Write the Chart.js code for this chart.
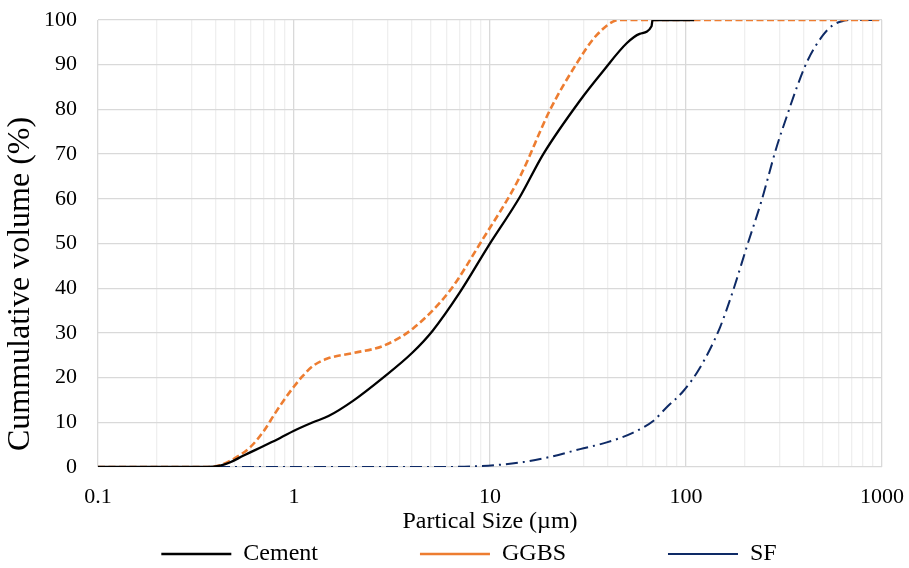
<!DOCTYPE html>
<html>
<head>
<meta charset="utf-8">
<script src="https://cdn.jsdelivr.net/npm/chart.js@4.4.1/dist/chart.umd.min.js"></script>
<style>
  html, body { margin: 0; padding: 0; background: #fff; }
  #wrap { width: 909px; height: 568px; }
</style>
</head>
<body>
<div id="wrap"><canvas id="psd"></canvas></div>
<script>
// particle size (um) / cumulative volume (%)
const cementSize = [0.1, 0.36, 0.42, 0.47, 0.55, 0.7, 0.85, 1.0, 1.25, 1.5, 2.0, 2.85, 4.0, 5.1, 7.0, 9.77, 14.2, 18.7, 28.8, 37.8, 49.8, 58, 66.7, 67.5, 110];
const cementVol  = [0, 0, 0.3, 1, 2.5, 4.7, 6.5, 8.1, 10, 11.4, 14.8, 20, 25.5, 30.5, 39, 49.3, 60.4, 70, 82, 88.6, 94.8, 96.9, 98.6, 100, 100];

const ggbsSize = [0.1, 0.36, 0.42, 0.5, 0.6, 0.7, 0.8, 0.9, 1.0, 1.1, 1.25, 1.47, 2.0, 2.85, 4.05, 6.25, 8.9, 14.2, 20.2, 27.7, 35, 45.7, 1000];
const ggbsVol  = [0, 0, 0.4, 2, 4.5, 8, 12, 15.3, 18, 20.2, 22.6, 24.2, 25.5, 27.1, 31, 39.5, 50, 64.9, 79.8, 90.3, 96.6, 100, 100];

const sfSize = [0.1, 5, 8.9, 14.8, 20, 28.8, 39.4, 53.8, 68, 79.5, 97, 117.8, 149, 174, 204, 243, 290, 326, 366, 418, 500, 564, 635, 700, 1000];
const sfVol  = [0, 0, 0.2, 1.1, 2.2, 4, 5.5, 7.7, 10.3, 13.3, 17, 22.2, 31.2, 39.5, 49.2, 59.6, 71.6, 78.3, 84.7, 91, 96.6, 98.9, 99.8, 100, 100];

const xDecades = [0.1, 1, 10, 100, 1000];
const yTicks = [0, 10, 20, 30, 40, 50, 60, 70, 80, 90, 100];

// gridlines at 1..9 of every decade
const xGrid = [];
xDecades.slice(0, -1).forEach(d => {
  for (let m = 1; m <= 9; m++) xGrid.push(+(d * m).toPrecision(3));
});
xGrid.push(1000);

const isDecade = v => xDecades.some(d => Math.abs(d - v) < 1e-9);
const pts = (xs, ys) => xs.map((x, i) => ({ x: x, y: ys[i] }));
const serif = "'Liberation Serif', 'Times New Roman', serif";

// excel leaves a wide gap between legend entries, and sits it a bit right of centre
const legendGap = '\u2003\u2003\u2003\u2003';
const legendNudge = {
  id: 'legendNudge',
  afterLayout(chart) { chart.legend.left += 56; }
};

new Chart(document.getElementById('psd'), {
  type: 'scatter',
  data: {
    datasets: [
      {
        label: 'Cement',
        data: pts(cementSize, cementVol),
        showLine: true,
        borderColor: '#000000',
        backgroundColor: '#000000',
        borderWidth: 2.3,
        pointRadius: 0,
        cubicInterpolationMode: 'monotone'
      },
      {
        label: 'GGBS',
        data: pts(ggbsSize, ggbsVol),
        showLine: true,
        borderColor: '#ED7D31',
        backgroundColor: '#ED7D31',
        borderWidth: 2.6,
        borderDash: [7, 3.5],
        pointRadius: 0,
        cubicInterpolationMode: 'monotone'
      },
      {
        label: 'SF',
        data: pts(sfSize, sfVol),
        showLine: true,
        borderColor: '#0e2a66',
        backgroundColor: '#0e2a66',
        borderWidth: 2,
        borderDash: [12, 5, 2, 5],
        pointRadius: 0,
        cubicInterpolationMode: 'monotone'
      }
    ]
  },
  options: {
    responsive: true,
    maintainAspectRatio: false,
    animation: false,
    layout: { padding: { top: 20, right: 27, left: 0, bottom: -8 } },
    scales: {
      x: {
        type: 'logarithmic',
        min: 0.1,
        max: 1000,
        afterBuildTicks: s => { s.ticks = xGrid.map(v => ({ value: v })); },
        afterFit: s => { s.height = 69; s.paddingLeft = 0; s.paddingRight = 0; },
        grid: {
          drawTicks: false,
          lineWidth: 1.3,
          color: c => (c.tick && isDecade(c.tick.value)) ? '#d9d9d9' : '#efefef'
        },
        border: { display: false },
        ticks: {
          autoSkip: false,
          maxRotation: 0,
          padding: 17,
          color: '#000',
          font: { family: serif, size: 22 },
          callback: v => isDecade(v) ? String(v) : ''
        },
        title: {
          display: true,
          text: 'Partical Size (µm)',
          color: '#000',
          font: { family: serif, size: 24 },
          padding: { top: 0, bottom: 0 }
        }
      },
      y: {
        min: 0,
        max: 100,
        afterBuildTicks: s => { s.ticks = yTicks.map(v => ({ value: v })); },
        afterFit: s => { s.width = 98; s.paddingTop = 0; s.paddingBottom = 0; },
        grid: { drawTicks: false, lineWidth: 1.3, color: '#d9d9d9' },
        border: { display: false },
        ticks: {
          padding: 21,
          color: '#000',
          font: { family: serif, size: 22 }
        },
        title: {
          display: true,
          text: '  Cummulative volume (%)',
          align: 'start',
          color: '#000',
          font: { family: serif, size: 32 },
          padding: { top: 1, bottom: 0 }
        }
      }
    },
    plugins: {
      tooltip: { enabled: false },
      legend: {
        position: 'bottom',
        labels: {
          usePointStyle: true,
          pointStyle: 'line',
          pointStyleWidth: 70,
          boxHeight: 18,
          padding: 6,
          color: '#000',
          font: { family: serif, size: 24 },
          generateLabels: chart => {
            const items = Chart.defaults.plugins.legend.labels.generateLabels(chart);
            items.forEach((it, i) => { if (i < items.length - 1) it.text += legendGap; });
            return items;
          }
        }
      }
    }
  },
  plugins: [legendNudge]
});
</script>
</body>
</html>
